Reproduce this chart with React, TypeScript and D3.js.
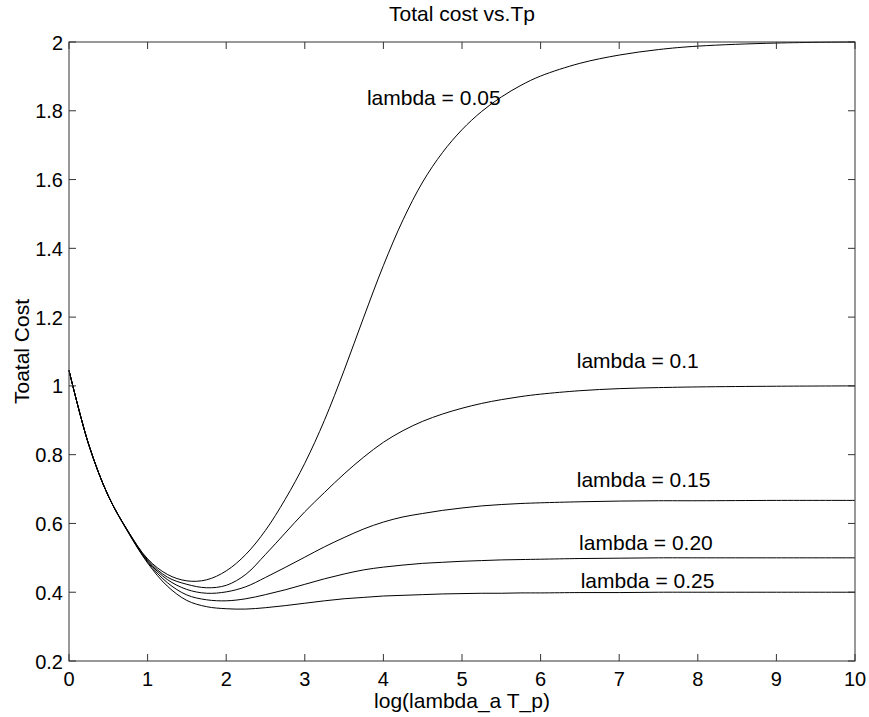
import React from "react";
import * as d3 from "d3";

const xs = [0, 0.25, 0.5, 0.75, 1, 1.25, 1.5, 1.75, 2, 2.25, 2.5, 2.75, 3, 3.25, 3.5, 3.75, 4, 4.25, 4.5, 4.75, 5, 5.25, 5.5, 5.75, 6, 6.5, 7, 7.5, 8, 9, 10];

const lambda005 = [1.045, 0.83, 0.68, 0.578, 0.497, 0.452, 0.433, 0.436, 0.462, 0.51, 0.58, 0.67, 0.775, 0.9, 1.045, 1.2, 1.35, 1.483, 1.593, 1.678, 1.745, 1.798, 1.84, 1.874, 1.901, 1.938, 1.962, 1.978, 1.988, 1.997, 2.0];
const lambda010 = [1.045, 0.83, 0.68, 0.578, 0.494, 0.444, 0.423, 0.413, 0.42, 0.452, 0.51, 0.572, 0.634, 0.69, 0.744, 0.793, 0.836, 0.87, 0.897, 0.918, 0.935, 0.949, 0.96, 0.969, 0.976, 0.986, 0.992, 0.995, 0.997, 0.999, 1.0];
const lambda015 = [1.045, 0.83, 0.68, 0.577, 0.491, 0.437, 0.408, 0.397, 0.401, 0.416, 0.443, 0.472, 0.502, 0.532, 0.559, 0.584, 0.604, 0.619, 0.629, 0.638, 0.645, 0.651, 0.655, 0.658, 0.66, 0.663, 0.665, 0.666, 0.666, 0.667, 0.667];
const lambda020 = [1.045, 0.83, 0.68, 0.576, 0.488, 0.428, 0.392, 0.378, 0.375, 0.381, 0.393, 0.407, 0.423, 0.439, 0.453, 0.465, 0.473, 0.479, 0.484, 0.487, 0.49, 0.492, 0.494, 0.495, 0.496, 0.498, 0.499, 0.5, 0.5, 0.5, 0.5];
const lambda025 = [1.045, 0.83, 0.68, 0.575, 0.485, 0.418, 0.376, 0.358, 0.352, 0.351, 0.355, 0.361, 0.368, 0.375, 0.381, 0.385, 0.389, 0.391, 0.393, 0.395, 0.396, 0.397, 0.397, 0.398, 0.398, 0.399, 0.399, 0.4, 0.4, 0.4, 0.4];

const seriesList = [lambda005, lambda010, lambda015, lambda020, lambda025];

const labelTexts = ["lambda = 0.05", "lambda = 0.1", "lambda = 0.15", "lambda = 0.20", "lambda = 0.25"];
const labelX = [3.79, 6.46, 6.46, 6.49, 6.51];
const labelY = [1.817, 1.051, 0.707, 0.523, 0.411];

const xTicks = [0, 1, 2, 3, 4, 5, 6, 7, 8, 9, 10];
const yTicks = [0.2, 0.4, 0.6, 0.8, 1, 1.2, 1.4, 1.6, 1.8, 2];

const titleText = "Total cost vs.Tp";
const xLabelText = "log(lambda_a T_p)";
const yLabelText = "Toatal Cost";

export default function App() {
  const W = 869, H = 717;
  const left = 69, right = 855, top = 42, bottom = 661;
  const x = d3.scaleLinear().domain([0, 10]).range([left, right]);
  const y = d3.scaleLinear().domain([0.2, 2]).range([bottom, top]);
  const line = d3
    .line<number>()
    .x((_, i) => x(xs[i]))
    .y((d) => y(d))
    .curve(d3.curveCatmullRom.alpha(0.5));
  const font = "'Liberation Sans', Arial, Helvetica, sans-serif";
  const fsTick = 20;
  const fsText = 21;
  const tl = 7;
  const axisColor = "#333";
  return (
    <svg
      width={W}
      height={H}
      style={{ position: "absolute", left: 0, top: 0, background: "#fff" }}
      fontFamily={font}
    >
      <rect x={0} y={0} width={W} height={H} fill="#fff" />
      {seriesList.map((s, k) => (
        <path key={k} d={line(s) || ""} fill="none" stroke="#000" strokeWidth={1} />
      ))}
      <rect x={left} y={top} width={right - left} height={bottom - top} fill="none" stroke={axisColor} strokeWidth={1} />
      {xTicks.map((t) => (
        <g key={"x" + t}>
          <line x1={x(t)} x2={x(t)} y1={bottom} y2={bottom - tl} stroke={axisColor} />
          <line x1={x(t)} x2={x(t)} y1={top} y2={top + tl} stroke={axisColor} />
          <text x={x(t)} y={686} textAnchor="middle" fontSize={fsTick} fill="#000">
            {t}
          </text>
        </g>
      ))}
      {yTicks.map((t) => (
        <g key={"y" + t}>
          <line x1={left} x2={left + tl} y1={y(t)} y2={y(t)} stroke={axisColor} />
          <line x1={right} x2={right - tl} y1={y(t)} y2={y(t)} stroke={axisColor} />
          <text x={63} y={y(t) + 7.5} textAnchor="end" fontSize={fsTick} fill="#000">
            {d3.format("~g")(t)}
          </text>
        </g>
      ))}
      {labelTexts.map((t, i) => (
        <text key={t} x={x(labelX[i])} y={y(labelY[i])} fontSize={fsText} fill="#000">
          {t}
        </text>
      ))}
      <text x={(left + right) / 2} y={21} textAnchor="middle" fontSize={fsText} fill="#000">
        {titleText}
      </text>
      <text x={(left + right) / 2} y={708} textAnchor="middle" fontSize={fsText} fill="#000">
        {xLabelText}
      </text>
      <text
        transform={`translate(28.5, ${(top + bottom) / 2}) rotate(-90)`}
        textAnchor="middle"
        fontSize={fsText}
        fill="#000"
      >
        {yLabelText}
      </text>
    </svg>
  );
}
